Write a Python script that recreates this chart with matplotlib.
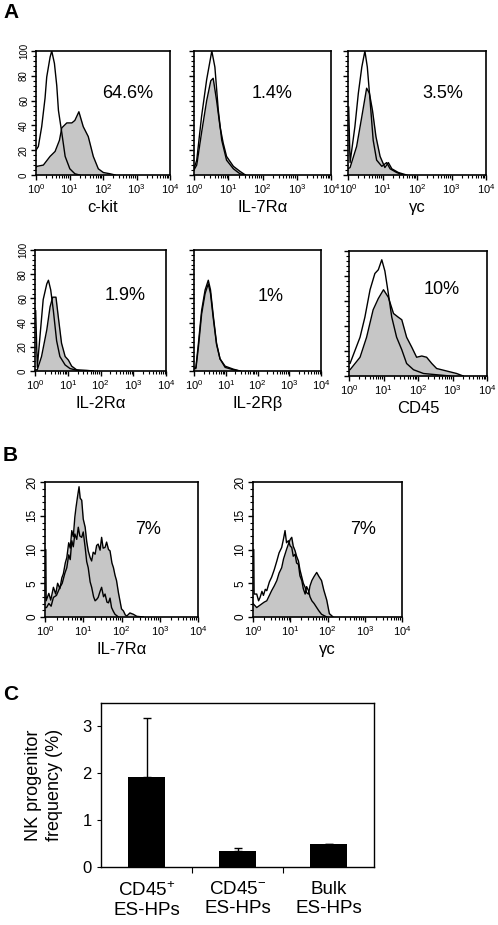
import numpy as np
import matplotlib
matplotlib.use("Agg")
import matplotlib.pyplot as plt
from matplotlib.ticker import LogLocator, NullFormatter, MultipleLocator, FixedLocator

plt.rcParams['font.family'] = ['Liberation Sans', 'DejaVu Sans']
plt.rcParams['mathtext.fontset'] = 'custom'
plt.rcParams['mathtext.rm'] = 'Liberation Sans'
plt.rcParams['mathtext.it'] = 'Liberation Sans:italic'
plt.rcParams['mathtext.bf'] = 'Liberation Sans:bold'

# ---- Panel A data (log10 fluorescence, % of max) ----
ckit_ctrl_log = [0, 0.07, 0.17, 0.27, 0.32, 0.42, 0.47, 0.55, 0.62, 0.67, 0.77, 0.87, 1.01, 1.16, 1.3]
ckit_ctrl_y = [20, 23, 39, 62, 79, 95, 100, 90, 72, 52, 34, 15, 5, 1, 0]
ckit_stain_log = [0, 0.03, 0.22, 0.42, 0.57, 0.70, 0.77, 0.92, 1.07, 1.16, 1.28, 1.41, 1.56, 1.71, 1.86, 2.01, 2.21, 2.36]
ckit_stain_y = [6, 7, 8, 15, 19, 28, 38, 42, 42, 44, 51, 39, 31, 15, 5, 2, 1, 0]

il7_ctrl_log = [0, 0.08, 0.22, 0.37, 0.52, 0.61, 0.71, 0.81, 0.95, 1.15, 1.34, 1.5]
il7_ctrl_y = [5, 12, 47, 77, 100, 87, 52, 28, 12, 5, 1, 0]
il7_stain_log = [0, 0.08, 0.22, 0.37, 0.49, 0.56, 0.66, 0.76, 0.85, 0.95, 1.15, 1.34, 1.5]
il7_stain_y = [4, 8, 34, 60, 76, 78, 60, 39, 26, 15, 7, 3, 0]

gc_ctrl_log = [0, 0.02, 0.06, 0.20, 0.30, 0.40, 0.49, 0.56, 0.64, 0.73, 0.83, 0.98, 1.12, 1.22, 1.41, 1.6]
gc_ctrl_y = [55, 55, 10, 39, 66, 87, 100, 87, 60, 28, 12, 7, 10, 5, 2, 0]
gc_stain_log = [0, 0.06, 0.25, 0.40, 0.54, 0.62, 0.71, 0.81, 0.93, 1.07, 1.17, 1.27, 1.46, 1.70]
gc_stain_y = [5, 6, 23, 47, 70, 66, 52, 31, 15, 6, 10, 5, 2, 0]

il2ra_ctrl_log = [0, 0.02, 0.07, 0.15, 0.25, 0.36, 0.41, 0.48, 0.56, 0.66, 0.76, 0.92, 1.07, 1.37]
il2ra_ctrl_y = [50, 50, 3, 28, 59, 72, 75, 67, 50, 25, 12, 5, 2, 0]
il2ra_stain_log = [0, 0.07, 0.20, 0.36, 0.46, 0.54, 0.64, 0.71, 0.81, 0.92, 1.02, 1.12, 1.27, 1.58, 1.78]
il2ra_stain_y = [1, 1, 12, 34, 53, 61, 61, 45, 23, 12, 9, 4, 1, 0.5, 0]

il2rb_ctrl_log = [0, 0.06, 0.14, 0.24, 0.35, 0.45, 0.52, 0.61, 0.71, 0.82, 0.98, 1.24, 1.45]
il2rb_ctrl_y = [2, 3, 23, 50, 67, 75, 67, 45, 23, 10, 3, 1, 0]
il2rb_stain_log = [0, 0.06, 0.14, 0.24, 0.35, 0.45, 0.52, 0.61, 0.71, 0.82, 0.98, 1.24, 1.45]
il2rb_stain_y = [2, 2, 20, 47, 64, 72, 64, 43, 22, 10, 4, 1.5, 0]

cd45_ctrl_log = [0, 0.03, 0.32, 0.46, 0.61, 0.75, 0.85, 0.95, 1.04, 1.14, 1.24, 1.38, 1.53, 1.67, 1.87, 2.16, 2.54, 2.93]
cd45_ctrl_y = [10, 10, 31, 47, 69, 82, 85, 93, 84, 66, 47, 31, 21, 10, 5, 2, 1, 0]
cd45_stain_log = [0, 0.03, 0.32, 0.51, 0.70, 0.85, 1.00, 1.14, 1.29, 1.43, 1.53, 1.67, 1.82, 1.96, 2.11, 2.25,
                  2.40, 2.54, 2.83, 3.12, 3.31]
cd45_stain_y = [5, 5, 15, 31, 53, 62, 69, 63, 50, 47, 45, 31, 23, 15, 16, 15, 10, 6, 4, 2, 0]

pct_a = ["64.6%", "1.4%", "3.5%", "1.9%", "1%", "10%"]
names_a = ["c-kit", "IL-7R\u03b1", "\u03b3c", "IL-2R\u03b1", "IL-2R\u03b2", "CD45"]

# ---- Panel B data (counts) ----
b_il7_stain_log = [0.00, 0.02, 0.03, 0.10, 0.15, 0.22, 0.28, 0.33, 0.39, 0.44, 0.48, 0.53, 0.57, 0.62, 0.66, 0.70,
                   0.74, 0.78, 0.81, 0.85, 0.89, 0.92, 0.96, 1.00, 1.05, 1.09, 1.13, 1.18, 1.22, 1.26, 1.31, 1.35,
                   1.39, 1.44, 1.48, 1.52, 1.57, 1.61, 1.66, 1.70, 1.75, 1.79, 1.83, 1.87, 1.92, 1.96, 2.00, 2.05,
                   2.10, 2.14, 2.22, 2.31, 2.40, 2.57]
b_il7_stain_y = [10, 10, 2.4, 3.5, 2.5, 4.4, 3.4, 5.0, 4.2, 5.8, 6.4, 8.0, 8.8, 11.0, 10.2, 12.8,
                 11.9, 14.8, 16.2, 17.8, 19.3, 17.6, 17.3, 14.5, 13.3, 11.2, 9.8, 8.8, 8.3, 9.6, 9.3, 10.6,
                 10.8, 9.9, 11.8, 10.2, 10.3, 11.1, 10.0, 9.8, 8.0, 7.3, 6.2, 5.4, 3.6, 2.4, 1.2, 0.9,
                 0.3, 0.15, 0.6, 0.4, 0.1, 0]
b_il7_ctrl_log = [0.00, 0.04, 0.10, 0.16, 0.22, 0.30, 0.39, 0.45, 0.52, 0.57, 0.62, 0.66, 0.70, 0.74, 0.78, 0.83,
                  0.87, 0.91, 0.96, 1.00, 1.05, 1.09, 1.13, 1.18, 1.22, 1.27, 1.31, 1.35, 1.39, 1.44, 1.48, 1.53,
                  1.57, 1.62, 1.66, 1.70, 1.74, 1.79, 1.83, 1.92]
b_il7_ctrl_y = [1.4, 1.4, 2.0, 1.6, 2.9, 3.2, 4.4, 5.0, 6.5, 7.3, 9.2, 8.5, 11.3, 10.4, 12.3, 11.5,
                13.3, 12.0, 11.8, 12.6, 10.3, 8.2, 7.3, 5.2, 4.4, 3.0, 2.4, 2.6, 2.9, 3.8, 4.4, 3.0,
                3.4, 2.2, 2.1, 2.8, 1.4, 0.8, 0.4, 0]

b_gc_ctrl_log = [0.00, 0.02, 0.03, 0.10, 0.15, 0.19, 0.24, 0.28, 0.33, 0.37, 0.44, 0.50, 0.57, 0.64, 0.70, 0.77,
                 0.82, 0.86, 0.90, 0.95, 1.00, 1.04, 1.08, 1.13, 1.17, 1.22, 1.26, 1.31, 1.35, 1.40, 1.44, 1.49,
                 1.53, 1.58, 1.64, 1.71, 1.77, 1.84, 1.98]
b_gc_ctrl_y = [10, 10, 3.4, 3.4, 2.4, 2.9, 3.8, 3.2, 4.1, 3.9, 5.2, 5.9, 7.0, 8.3, 9.5, 10.3,
               11.6, 12.8, 11.0, 11.3, 10.5, 10.3, 9.0, 9.3, 8.0, 7.8, 6.1, 5.4, 4.2, 3.4, 4.5, 3.9,
               3.0, 2.4, 2.0, 1.4, 0.9, 0.4, 0]
b_gc_stain_log = [0.00, 0.10, 0.20, 0.30, 0.37, 0.44, 0.50, 0.57, 0.64, 0.70, 0.77, 0.82, 0.86, 0.90, 0.95, 1.00,
                  1.04, 1.08, 1.13, 1.17, 1.22, 1.26, 1.31, 1.35, 1.40, 1.44, 1.49, 1.53, 1.58, 1.64, 1.71, 1.77,
                  1.84, 1.90, 1.98, 2.05, 2.15]
b_gc_stain_y = [2, 1.4, 1.8, 2.2, 2.4, 3.2, 3.9, 4.6, 5.4, 6.5, 7.3, 8.6, 9.3, 10.0, 10.8, 11.5,
                11.8, 10.5, 9.8, 9.0, 8.3, 7.0, 5.9, 5.0, 4.4, 3.6, 3.4, 4.6, 5.4, 6.0, 6.6, 6.0,
                5.4, 4.0, 2.5, 0.5, 0]

pct_b = ["7%", "7%"]
names_b = ["IL-7R\u03b1", "\u03b3c"]

# ---- Panel C data ----
nk_groups = ["CD45$^{+}$\nES-HPs", "CD45$^{-}$\nES-HPs", "Bulk\nES-HPs"]
nk_freq = [1.93, 0.35, 0.49]
nk_err = [1.26, 0.05, 0.0]

W, H = 498, 925
fig = plt.figure(figsize=(W / 100, H / 100), dpi=100)


def add_ax(l, t, r, b):
    return fig.add_axes([l / W, 1 - b / H, (r - l) / W, (b - t) / H])


def hist_panel(ax, ctrl_log, ctrl_y, stain_log, stain_y, ymax, ymajor, yminor, show_ylab, ylab_size):
    sx = 10 ** np.array(stain_log)
    cx = 10 ** np.array(ctrl_log)
    ax.fill_between(sx, stain_y, 0, color='#c6c6c6', lw=0)
    ax.plot(sx, stain_y, color='black', lw=1.0)
    ax.plot(cx, ctrl_y, color='black', lw=1.0)
    ax.set_xscale('log')
    ax.set_xlim(1, 1e4)
    ax.set_ylim(0, ymax)
    ax.xaxis.set_major_locator(LogLocator(base=10, numticks=10))
    ax.xaxis.set_minor_locator(LogLocator(base=10, subs=np.arange(2, 10), numticks=20))
    ax.xaxis.set_minor_formatter(NullFormatter())
    ax.yaxis.set_major_locator(MultipleLocator(ymajor))
    ax.yaxis.set_minor_locator(MultipleLocator(yminor))
    for s in ax.spines.values():
        s.set_linewidth(1.2)
    ax.tick_params(which='major', direction='out', length=3.5, width=1.0, labelsize=8, pad=1.5)
    ax.tick_params(which='minor', direction='out', length=2, width=0.8)
    ax.tick_params(axis='y', labelleft=show_ylab, labelsize=ylab_size)
    if show_ylab:
        for lab in ax.get_yticklabels():
            lab.set_rotation(90)
            lab.set_va('center')


# Panel A
boxes_a = [(36, 51, 170, 175), (194, 51, 331, 175), (348, 51, 486, 175),
           (35, 250, 166, 371), (194, 250, 321, 371), (349, 251, 487, 376)]
curves_a = [(ckit_ctrl_log, ckit_ctrl_y, ckit_stain_log, ckit_stain_y),
            (il7_ctrl_log, il7_ctrl_y, il7_stain_log, il7_stain_y),
            (gc_ctrl_log, gc_ctrl_y, gc_stain_log, gc_stain_y),
            (il2ra_ctrl_log, il2ra_ctrl_y, il2ra_stain_log, il2ra_stain_y),
            (il2rb_ctrl_log, il2rb_ctrl_y, il2rb_stain_log, il2rb_stain_y),
            (cd45_ctrl_log, cd45_ctrl_y, cd45_stain_log, cd45_stain_y)]
pct_pos_a = [(128, 94), (272, 94), (443, 94), (125, 295), (271, 296), (442, 290)]

for i in range(6):
    ax = add_ax(*boxes_a[i])
    c = curves_a[i]
    hist_panel(ax, c[0], c[1], c[2], c[3], 100, 20, 4, i in (0, 3), 7)
    ax.set_xlabel(names_a[i], fontsize=12, labelpad=3)
    fig.text(pct_pos_a[i][0] / W, 1 - pct_pos_a[i][1] / H, pct_a[i], fontsize=13, ha='center', va='center')

# Panel B
boxes_b = [(45, 482, 198, 617), (253, 482, 402, 617)]
curves_b = [(b_il7_ctrl_log, b_il7_ctrl_y, b_il7_stain_log, b_il7_stain_y),
            (b_gc_ctrl_log, b_gc_ctrl_y, b_gc_stain_log, b_gc_stain_y)]
pct_pos_b = [(148, 530), (363, 530)]
for i in range(2):
    ax = add_ax(*boxes_b[i])
    c = curves_b[i]
    hist_panel(ax, c[0], c[1], c[2], c[3], 20, 5, 1, True, 8.5)
    ax.set_xlabel(names_b[i], fontsize=12, labelpad=3)
    fig.text(pct_pos_b[i][0] / W, 1 - pct_pos_b[i][1] / H, pct_b[i], fontsize=13, ha='center', va='center')

# Panel C
ax = add_ax(101, 703, 374, 867)
pos = np.arange(len(nk_freq))
ax.bar(pos, nk_freq, width=0.4, color='black',
       yerr=[np.zeros(len(nk_err)), nk_err], capsize=3,
       error_kw=dict(ecolor='black', elinewidth=1.0, capthick=1.0))
ax.set_xlim(-0.5, 2.5)
ax.set_ylim(0, 3.5)
ax.set_yticks([0, 1, 2, 3])
ax.xaxis.set_major_locator(FixedLocator([0.5, 1.5]))
ax.xaxis.set_minor_locator(FixedLocator(pos))
ax.set_xticklabels([], minor=False)
ax.set_xticklabels(nk_groups, minor=True, fontsize=13.5, linespacing=1.2)
ax.tick_params(axis='x', which='minor', length=0, pad=10)
ax.tick_params(axis='x', which='major', length=4, direction='out')
ax.tick_params(axis='y', labelsize=12, length=3, direction='out')
for s in ax.spines.values():
    s.set_linewidth(1.0)
ax.set_ylabel("NK progenitor\nfrequency (%)", fontsize=13, linespacing=1.3, labelpad=14)

# panel letters
for letter, y in [("A", 13), ("B", 455), ("C", 695)]:
    fig.text(3 / W, 1 - y / H, letter, fontsize=15, fontweight='bold', ha='left', va='center')

fig.savefig("out.png", dpi=100)
